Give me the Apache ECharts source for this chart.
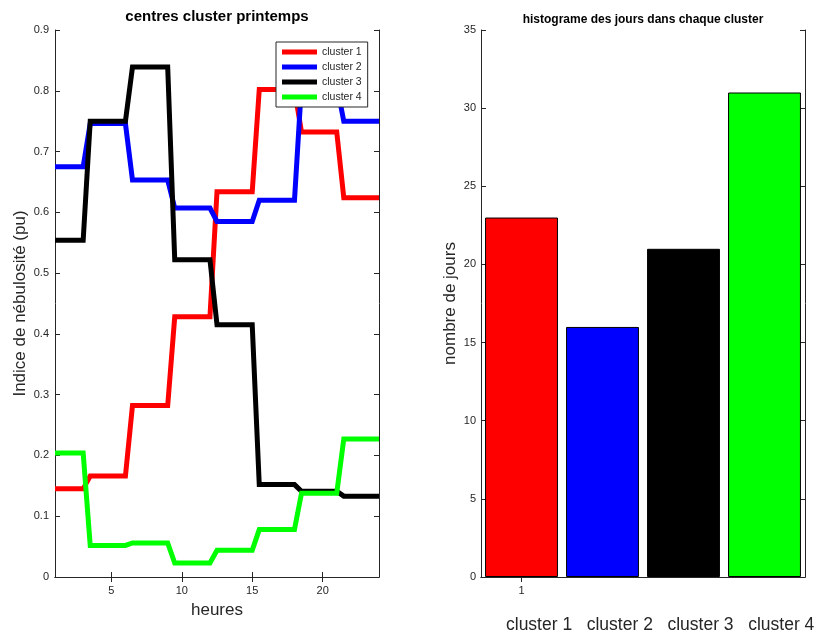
<!DOCTYPE html>
<html>
<head>
<meta charset="utf-8">
<script src="https://cdn.jsdelivr.net/npm/echarts@6/dist/echarts.min.js"></script>
<style>
html,body{margin:0;padding:0;background:#fff;}
#chart{width:816px;height:635px;}
</style>
</head>
<body>
<div id="chart"></div>
<script>
// ---- data (left: cluster centres, vertices of the step curves) ----
const hours = [1, 3, 3.5, 6, 6.5, 9, 9.5, 12, 12.5, 15, 15.5, 18, 18.5, 21, 21.5, 24];
const cluster1 = [0.145, 0.145, 0.166, 0.166, 0.282, 0.282, 0.428, 0.428, 0.634, 0.634, 0.802, 0.802, 0.732, 0.732, 0.624, 0.624];
const cluster2 = [0.675, 0.675, 0.746, 0.746, 0.653, 0.653, 0.607, 0.607, 0.585, 0.585, 0.620, 0.620, 0.810, 0.810, 0.750, 0.750];
const cluster3 = [0.554, 0.554, 0.750, 0.750, 0.839, 0.839, 0.522, 0.522, 0.415, 0.415, 0.152, 0.152, 0.141, 0.141, 0.133, 0.133];
const cluster4 = [0.204, 0.204, 0.052, 0.052, 0.056, 0.056, 0.023, 0.023, 0.044, 0.044, 0.078, 0.078, 0.138, 0.138, 0.227, 0.227];
const seriesNames = ['cluster 1', 'cluster 2', 'cluster 3', 'cluster 4'];
const xTicks = [5, 10, 15, 20];

// ---- data (right: histogram) ----
const binPositions = ['1', '2', '3', '4'];
const dayCounts = [23, 16, 21, 31];
const clusterLabelText = 'cluster 1   cluster 2   cluster 3   cluster 4';

const colors = ['#ff0000', '#0000ff', '#000000', '#00ff00'];
const FONT = '"Liberation Sans", Arial, Helvetica, sans-serif';
const AX = '#262626';

const chart = echarts.init(document.getElementById('chart'), null, {renderer: 'canvas'});

function pairs(xs, ys) { return xs.map((x, i) => [x, ys[i]]); }
const lineData = [cluster1, cluster2, cluster3, cluster4];

const axLine = {show: true, lineStyle: {color: AX, width: 1}};
const lbl = {color: AX, fontSize: 11, fontFamily: FONT};

const option = {
  animation: false,
  backgroundColor: '#fff',
  grid: [
    {left: 55, top: 30, width: 324, height: 547, containLabel: false},
    {left: 481, top: 30, width: 324, height: 547, containLabel: false}
  ],
  legend: {
    data: seriesNames,
    orient: 'vertical',
    left: 276, top: 42,
    icon: 'rect',
    itemWidth: 35, itemHeight: 5,
    itemGap: 3,
    padding: [4, 6, 4, 6],
    borderColor: AX, borderWidth: 1,
    backgroundColor: '#fff',
    textStyle: {fontSize: 10.5, fontFamily: FONT, color: AX, lineHeight: 12}
  },
  xAxis: [
    {
      gridIndex: 0, type: 'value', min: 1, max: 24, position: 'bottom',
      name: 'heures', nameLocation: 'middle', nameGap: 25,
      nameTextStyle: {fontSize: 17, fontFamily: FONT, color: AX},
      axisLine: axLine,
      axisTick: {show: true, inside: true, length: 5, lineStyle: {color: AX}, customValues: xTicks},
      axisLabel: Object.assign({margin: 8, customValues: xTicks}, lbl),
      splitLine: {show: false}
    },
    {
      gridIndex: 0, type: 'value', min: 1, max: 24, position: 'top',
      axisLine: axLine,
      axisTick: {show: true, inside: true, length: 5, lineStyle: {color: AX}, customValues: xTicks},
      axisLabel: {show: false},
      splitLine: {show: false}
    },
    {
      gridIndex: 1, type: 'category', data: binPositions, position: 'bottom',
      boundaryGap: true,
      axisLine: axLine,
      axisTick: {show: true, inside: true, length: 5, alignWithLabel: true, lineStyle: {color: AX}, interval: (i) => i === 0},
      axisLabel: Object.assign({margin: 8, interval: (i) => i === 0}, lbl),
      splitLine: {show: false}
    },
    {
      gridIndex: 1, type: 'category', data: binPositions, position: 'top',
      boundaryGap: true,
      axisLine: axLine,
      axisTick: {show: true, inside: true, length: 5, alignWithLabel: true, lineStyle: {color: AX}, interval: (i) => i === 0},
      axisLabel: {show: false},
      splitLine: {show: false}
    }
  ],
  yAxis: [
    {
      gridIndex: 0, type: 'value', min: 0, max: 0.9, interval: 0.1, position: 'left',
      name: 'Indice de nébulosité (pu)', nameLocation: 'middle', nameGap: 26,
      nameTextStyle: {fontSize: 17, fontFamily: FONT, color: AX},
      axisLine: axLine,
      axisTick: {show: true, inside: true, length: 5, lineStyle: {color: AX}},
      axisLabel: Object.assign({margin: 6, formatter: (v) => String(Math.round(v * 10) / 10)}, lbl),
      splitLine: {show: false}
    },
    {
      gridIndex: 0, type: 'value', min: 0, max: 0.9, interval: 0.1, position: 'right',
      axisLine: axLine,
      axisTick: {show: true, inside: true, length: 5, lineStyle: {color: AX}},
      axisLabel: {show: false},
      splitLine: {show: false}
    },
    {
      gridIndex: 1, type: 'value', min: 0, max: 35, interval: 5, position: 'left',
      name: 'nombre de jours', nameLocation: 'middle', nameGap: 22,
      nameTextStyle: {fontSize: 17, fontFamily: FONT, color: AX},
      axisLine: axLine,
      axisTick: {show: true, inside: true, length: 5, lineStyle: {color: AX}},
      axisLabel: Object.assign({margin: 5}, lbl),
      splitLine: {show: false}
    },
    {
      gridIndex: 1, type: 'value', min: 0, max: 35, interval: 5, position: 'right',
      axisLine: axLine,
      axisTick: {show: true, inside: true, length: 5, lineStyle: {color: AX}},
      axisLabel: {show: false},
      splitLine: {show: false}
    }
  ],
  series: seriesNames.map((n, k) => ({
    name: n, type: 'line', xAxisIndex: 0, yAxisIndex: 0,
    data: pairs(hours, lineData[k]),
    showSymbol: false, symbol: 'none',
    clip: true,
    lineStyle: {color: colors[k], width: 5, join: 'miter'},
    itemStyle: {color: colors[k]},
    z: 2 + k
  })).concat([{
    name: 'histogramme', type: 'bar', xAxisIndex: 2, yAxisIndex: 2,
    barCategoryGap: '10%',
    data: dayCounts.map((v, i) => ({value: v, itemStyle: {color: colors[i]}})),
    itemStyle: {borderColor: '#000', borderWidth: 1}
  }]),
  graphic: [
    {type: 'text', x: 217, y: 17, style: {text: 'centres cluster printemps', align: 'center', verticalAlign: 'middle', font: 'bold 15px ' + FONT, fill: '#000'}},
    {type: 'text', x: 643, y: 20, style: {text: 'histograme des jours dans chaque cluster', align: 'center', verticalAlign: 'middle', font: 'bold 12px ' + FONT, fill: '#000'}},
    {type: 'text', x: 506, y: 625, style: {text: clusterLabelText, align: 'left', verticalAlign: 'middle', font: '17.5px ' + FONT, fill: AX}}
  ]
};
chart.setOption(option);
</script>
</body>
</html>
